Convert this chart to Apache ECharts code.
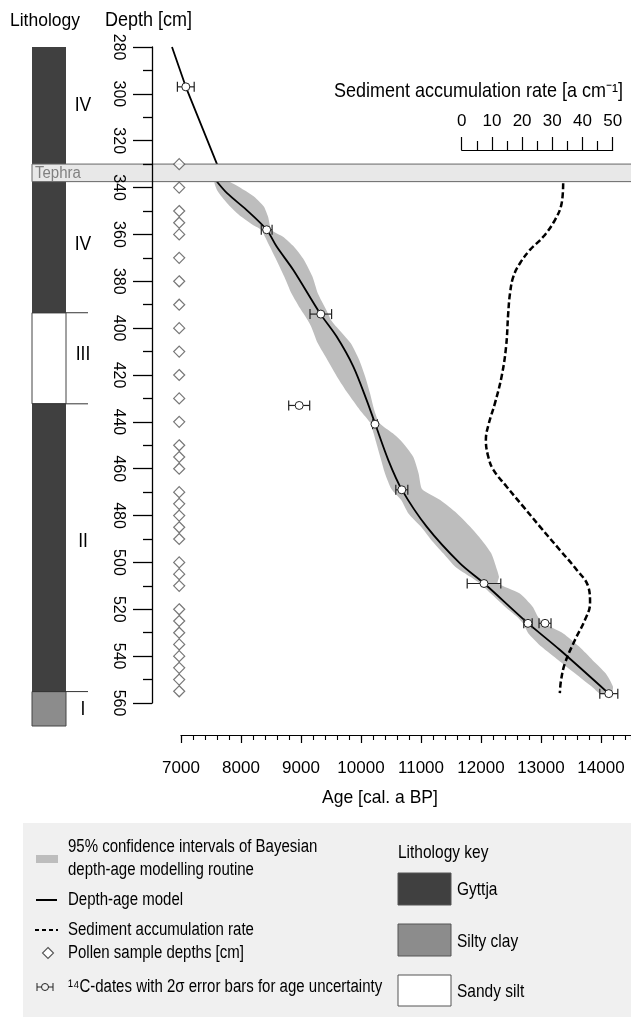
<!DOCTYPE html>
<html><head><meta charset="utf-8">
<script src="https://cdn.jsdelivr.net/npm/echarts@6/dist/echarts.min.js"></script>
<style>html,body{margin:0;padding:0;background:#fff}#c{width:631px;height:1017px}</style>
</head><body><div id="c"></div>
<script>
const FONT = 'Liberation Sans, Arial, sans-serif';

// ---------- data ----------
const pollenDepths = [330,340,350,355,360,370,380,390,400,410,420,430,440,450,455,460,470,475,480,485,490,500,505,510,520,525,530,535,540,545,550,555];
const pollenAge = 6970;

const dateAge   = [7080, 8428, 9330, 8970, 10233, 10680, 12050, 12783, 13067, 14130];
const dateDepth = [297, 358, 394, 433, 441, 469, 509, 526, 526, 556];
const dateErr   = [140, 90, 180, 175, 40, 100, 280, 70, 100, 150];

const modelAge   = [6850, 7080, 7600, 7600, 7772, 8095, 8428, 8594, 8872, 9317, 9594, 9872, 10094, 10233, 10455, 10678, 11094, 11650, 12050, 12762, 13317, 14130];
const modelDepth = [280, 297, 330, 337.5, 342.5, 349.6, 358, 365.2, 375.2, 393.7, 403.6, 416.4, 430.7, 440.6, 456.3, 468.8, 484.7, 500.4, 508.9, 525.5, 537.4, 556];

const bandDepth = [337.5, 341.0, 343.9, 348.1, 352.4, 356.0, 358.1, 361.0, 365.2, 370.9, 378.0, 385.1, 392.2, 396.5, 399.4, 406.5, 413.6, 420.7, 427.8, 434.9, 440.6, 444.9, 448.5, 454.9, 462.0, 468.8, 473.4, 479.1, 484.8, 490.4, 496.1, 501.8, 506.1, 508.9, 513.2, 518.9, 523.2, 526.0, 530.3, 536.0, 541.7, 547.4, 553.1, 556.0];
const bandLeft  = [7560, 7600, 7680, 7820, 8000, 8200, 8340, 8400, 8480, 8590, 8720, 8840, 9000, 9110, 9170, 9280, 9440, 9600, 9780, 9980, 10160, 10210, 10250, 10320, 10400, 10510, 10670, 10790, 11000, 11170, 11370, 11570, 11820, 11980, 12160, 12400, 12600, 12700, 12790, 13010, 13290, 13570, 13850, 13983];
const bandRight = [7800, 8050, 8220, 8380, 8450, 8480, 8500, 8700, 8880, 9050, 9190, 9280, 9420, 9500, 9590, 9830, 9970, 10070, 10150, 10220, 10310, 10530, 10680, 10870, 10960, 11020, 11320, 11600, 11820, 12010, 12170, 12250, 12300, 12280, 12640, 12860, 12950, 13040, 13370, 13640, 13860, 14080, 14200, 14170];

const rateDepth = [338.2, 346.7, 353.8, 361, 366.6, 372.3, 378, 385.1, 393.7, 407.9, 420.7, 432.1, 440.6, 447.7, 454.9, 460.5, 467.7, 476.2, 484.7, 494.7, 503.2, 510.3, 517.4, 524.6, 533.1, 543, 550.2, 555.8];
const rateValue = [33.6, 33.1, 30.9, 27, 22.6, 19.3, 17.1, 16, 15.4, 14.7, 13.2, 11, 9.0, 8.0, 8.8, 10.5, 14.9, 20.4, 25.9, 32.5, 38.1, 41.9, 42.5, 40.8, 37.5, 34.2, 32.9, 32.5];

const lithoTop    = [280, 393.5, 432.4, 555.3];
const lithoBottom = [393.5, 432.4, 555.3, 570];
const lithoType   = [0, 2, 0, 1];
const lithoKey    = ['Gyttja', 'Silty clay', 'Sandy silt'];
const lithoColor  = ['#404040', '#8c8c8c', '#ffffff'];
const unitLabel      = ['IV', 'IV', 'III', 'II', 'I'];
const unitLabelDepth = [305, 364.5, 411.5, 491, 563];
const tephraTop = 330, tephraBottom = 337.5;

// ---------- chart ----------
const chart = echarts.init(document.getElementById('c'), null, {renderer: 'canvas', width: 631, height: 1017});

const gridCommon = {containLabel: false, outerBoundsMode: 'none'};
const txt = (o) => Object.assign({fontFamily: FONT, fill: '#000'}, o);
const legText = (x, y, s, size) => ({type: 'text', x: x, y: y, scaleY: 1.2,
  style: txt({text: s, fontSize: size || 15, align: 'left', verticalAlign: 'middle'})});

const modelPts = modelAge.map((a, i) => [a, modelDepth[i]]);
const modelUpper = modelPts.filter(p => p[1] <= tephraBottom);
const modelLower = modelPts.filter(p => p[1] >= tephraBottom);

const option = {
  animation: false,
  backgroundColor: '#fff',
  grid: [
    Object.assign({left: 152, top: 47, width: 479, height: 656}, gridCommon),   // 0 main
    Object.assign({left: 32, top: 47, width: 34, height: 679}, gridCommon),     // 1 lithology
    Object.assign({left: 461.7, top: 47, width: 151, height: 656}, gridCommon), // 2 rate
    Object.assign({left: 181, top: 700, width: 450, height: 35}, gridCommon)    // 3 age axis
  ],
  xAxis: [
    {gridIndex: 0, type: 'value', min: 6516.67, max: 14500, show: false},
    {gridIndex: 1, type: 'value', min: 0, max: 1, show: false},
    {gridIndex: 2, type: 'value', min: 0, max: 50, interval: 10, position: 'top', offset: -103,
     axisLine: {show: true, lineStyle: {color: '#000', width: 1.2}},
     axisTick: {show: true, length: 13, lineStyle: {color: '#000', width: 1.2}},
     minorTick: {show: true, splitNumber: 2, length: 9, lineStyle: {color: '#000', width: 1.2}},
     splitLine: {show: false}, minorSplitLine: {show: false},
     axisLabel: {fontSize: 17, fontFamily: FONT, color: '#000', margin: 20}},
    {gridIndex: 3, type: 'value', min: 7000, max: 14500, interval: 1000, position: 'bottom',
     axisLine: {show: true, lineStyle: {color: '#000', width: 1.2}},
     axisTick: {show: true, length: 8, lineStyle: {color: '#000', width: 1.2}},
     splitLine: {show: false},
     axisLabel: {fontSize: 17, fontFamily: FONT, color: '#000', margin: 25, showMaxLabel: false,
                 formatter: v => String(v)}},
    {gridIndex: 3, type: 'value', min: 7000, max: 14500, interval: 200, position: 'bottom',
     axisLine: {show: false},
     axisTick: {show: true, length: 5, lineStyle: {color: '#000', width: 1.1}},
     splitLine: {show: false}, axisLabel: {show: false}}
  ],
  yAxis: [
    {gridIndex: 0, type: 'value', inverse: true, min: 280, max: 560, interval: 20, position: 'left', z: 10,
     axisLine: {show: true, lineStyle: {color: '#000', width: 1.3}},
     axisTick: {show: true, length: 19, lineStyle: {color: '#000', width: 1.3}},
     minorTick: {show: true, splitNumber: 2, length: 9, lineStyle: {color: '#000', width: 1.3}},
     splitLine: {show: false}, minorSplitLine: {show: false},
     axisLabel: {rotate: -90, fontSize: 16, fontFamily: FONT, color: '#000', margin: 26}},
    {gridIndex: 1, type: 'value', inverse: true, min: 280, max: 570, show: false},
    {gridIndex: 2, type: 'value', inverse: true, min: 280, max: 560, show: false},
    {gridIndex: 3, type: 'value', min: 0, max: 1, show: false}
  ],
  series: [
    // lithology column
    {type: 'custom', xAxisIndex: 1, yAxisIndex: 1, z: 2, silent: true,
     data: lithoTop.map((t, i) => [t, lithoBottom[i], lithoType[i]]),
     encode: {y: [0, 1]},
     renderItem: function (params, api) {
       const t = api.value(0), b = api.value(1), k = api.value(2);
       const p0 = api.coord([0, t]), p1 = api.coord([1, b]);
       const ch = [{type: 'rect', shape: {x: p0[0], y: p0[1], width: p1[0] - p0[0], height: p1[1] - p0[1]},
                    style: {fill: lithoColor[k], stroke: k === 0 ? null : '#444', lineWidth: 1}}];
       if (params.dataIndex > 0) ch.push({type: 'line', shape: {x1: p0[0], y1: p0[1], x2: p1[0] + 22, y2: p0[1]}, style: {stroke: '#333', lineWidth: 1}});
       return {type: 'group', children: ch};
     }},
    // unit labels
    {type: 'custom', xAxisIndex: 1, yAxisIndex: 1, z: 2, silent: true,
     data: unitLabelDepth.map((d, i) => [1, d, i]),
     renderItem: function (params, api) {
       const p = api.coord([api.value(0), api.value(1)]);
       return {type: 'text', x: p[0] + 17, y: p[1], scaleY: 1.15,
               style: txt({text: unitLabel[api.value(2)], fontSize: 17.5, align: 'center', verticalAlign: 'middle'})};
     }},
    // confidence band
    {type: 'custom', xAxisIndex: 0, yAxisIndex: 0, z: 2, silent: true,
     data: bandDepth.map((d, i) => [bandLeft[i], d, bandRight[i]]),
     encode: {x: [0, 2], y: 1},
     renderItem: function (params, api) {
       if (params.dataIndex !== 0) return null;
       const pts = [];
       for (let i = 0; i < bandDepth.length; i++) pts.push(api.coord([bandLeft[i], bandDepth[i]]));
       for (let i = bandDepth.length - 1; i >= 0; i--) pts.push(api.coord([bandRight[i], bandDepth[i]]));
       return {type: 'polygon', shape: {points: pts, smooth: 0.2}, style: {fill: '#bdbdbd'}};
     }},
    // depth-age model (above tephra: straight)
    {type: 'line', xAxisIndex: 0, yAxisIndex: 0, z: 3, silent: true, symbol: 'none', smooth: false, clip: false,
     data: modelUpper, lineStyle: {color: '#000', width: 1.8}},
    // depth-age model (below tephra)
    {type: 'line', xAxisIndex: 0, yAxisIndex: 0, z: 3, silent: true, symbol: 'none', smooth: 0.3, clip: false,
     data: modelLower, lineStyle: {color: '#000', width: 1.8}},
    // sediment accumulation rate
    {type: 'line', xAxisIndex: 2, yAxisIndex: 2, z: 4, silent: true, symbol: 'none', smooth: 0.4, clip: false,
     data: rateValue.map((r, i) => [r, rateDepth[i]]),
     lineStyle: {color: '#000', width: 2.5, type: [6, 3]}},
    // tephra
    {type: 'custom', xAxisIndex: 1, yAxisIndex: 1, z: 5, silent: true,
     data: [[tephraTop, tephraBottom]],
     encode: {y: [0, 1]},
     renderItem: function (params, api) {
       const p0 = api.coord([0, api.value(0)]), p1 = api.coord([0, api.value(1)]);
       return {type: 'group', children: [
         {type: 'rect', shape: {x: p0[0], y: p0[1], width: api.getWidth() - p0[0] + 5, height: p1[1] - p0[1]},
          style: {fill: '#e8e8e8', stroke: '#666', lineWidth: 1}},
         {type: 'text', x: p0[0] + 3, y: (p0[1] + p1[1]) / 2, scaleY: 1.15,
          style: txt({text: 'Tephra', fontSize: 15, fill: '#808080', align: 'left', verticalAlign: 'middle'})}
       ]};
     }},
    // pollen sample depths
    {type: 'scatter', xAxisIndex: 0, yAxisIndex: 0, z: 6, silent: true, symbol: 'diamond', symbolSize: 11, clip: false,
     data: pollenDepths.map(d => [pollenAge, d]),
     itemStyle: {color: '#fff', borderColor: '#555', borderWidth: 1.2}},
    // 14C dates
    {type: 'custom', xAxisIndex: 0, yAxisIndex: 0, z: 7, silent: true,
     data: dateAge.map((a, i) => [a, dateDepth[i], dateErr[i]]),
     encode: {x: 0, y: 1},
     renderItem: function (params, api) {
       const a = api.value(0), d = api.value(1), e = api.value(2);
       const p0 = api.coord([a - e, d]), p1 = api.coord([a + e, d]), c = api.coord([a, d]);
       const st = {stroke: '#222', lineWidth: 1.2};
       return {type: 'group', children: [
         {type: 'line', shape: {x1: p0[0], y1: c[1], x2: p1[0], y2: c[1]}, style: st},
         {type: 'line', shape: {x1: p0[0], y1: c[1] - 5, x2: p0[0], y2: c[1] + 5}, style: st},
         {type: 'line', shape: {x1: p1[0], y1: c[1] - 5, x2: p1[0], y2: c[1] + 5}, style: st},
         {type: 'circle', shape: {cx: c[0], cy: c[1], r: 4}, style: {fill: '#fff', stroke: '#222', lineWidth: 1}}
       ]};
     }}
  ],
  graphic: [
    {type: 'text', x: 10, y: 21, scaleY: 1.1, style: txt({text: 'Lithology', fontSize: 17.5, align: 'left', verticalAlign: 'middle'})},
    {type: 'text', x: 105, y: 21, scaleY: 1.1, style: txt({text: 'Depth [cm]', fontSize: 18, align: 'left', verticalAlign: 'middle'})},
    {type: 'text', x: 623, y: 92, scaleY: 1.1, style: txt({text: 'Sediment accumulation rate [a cm\u207B\u00B9]', fontSize: 18, align: 'right', verticalAlign: 'middle'})},
    {type: 'text', x: 380, y: 798, scaleY: 1.1, style: txt({text: 'Age [cal. a BP]', fontSize: 17.5, align: 'center', verticalAlign: 'middle'})},
    // legend box
    {type: 'rect', shape: {x: 23, y: 823, width: 610, height: 196}, style: {fill: '#f0f0f0'}, z: -1},
    {type: 'rect', shape: {x: 36, y: 855, width: 22, height: 8}, style: {fill: '#bdbdbd'}},
    legText(68, 847, '95% confidence intervals of Bayesian'),
    legText(68, 870, 'depth-age modelling routine'),
    {type: 'line', shape: {x1: 36, y1: 900, x2: 57, y2: 900}, style: {stroke: '#000', lineWidth: 2}},
    legText(68, 900, 'Depth-age model'),
    {type: 'line', shape: {x1: 35, y1: 930, x2: 58, y2: 930}, style: {stroke: '#000', lineWidth: 2, lineDash: [4, 3]}},
    legText(68, 930, 'Sediment accumulation rate'),
    {type: 'polygon', shape: {points: [[48, 947.5], [53.5, 953], [48, 958.5], [42.5, 953]]}, style: {fill: '#fff', stroke: '#555', lineWidth: 1.1}},
    legText(68, 953, 'Pollen sample depths [cm]'),
    {type: 'line', shape: {x1: 37, y1: 987, x2: 53, y2: 987}, style: {stroke: '#222', lineWidth: 1}},
    {type: 'line', shape: {x1: 37, y1: 983, x2: 37, y2: 991}, style: {stroke: '#222', lineWidth: 1}},
    {type: 'line', shape: {x1: 53, y1: 983, x2: 53, y2: 991}, style: {stroke: '#222', lineWidth: 1}},
    {type: 'circle', shape: {cx: 45, cy: 987, r: 3.5}, style: {fill: '#f0f0f0', stroke: '#222', lineWidth: 1}},
    legText(68, 987, '\u00B9\u2074C-dates with 2\u03C3 error bars for age uncertainty'),
    legText(398, 853, 'Lithology key', 15.5),
    {type: 'rect', shape: {x: 398, y: 873, width: 53, height: 32}, style: {fill: lithoColor[0], stroke: '#555', lineWidth: 1}},
    legText(457, 890, lithoKey[0], 15.5),
    {type: 'rect', shape: {x: 398, y: 924, width: 53, height: 32}, style: {fill: lithoColor[1], stroke: '#555', lineWidth: 1}},
    legText(457, 942, lithoKey[1], 15.5),
    {type: 'rect', shape: {x: 398, y: 975, width: 53, height: 31}, style: {fill: lithoColor[2], stroke: '#555', lineWidth: 1}},
    legText(457, 992, lithoKey[2], 15.5)
  ]
};
chart.setOption(option);
</script>
</body></html>
